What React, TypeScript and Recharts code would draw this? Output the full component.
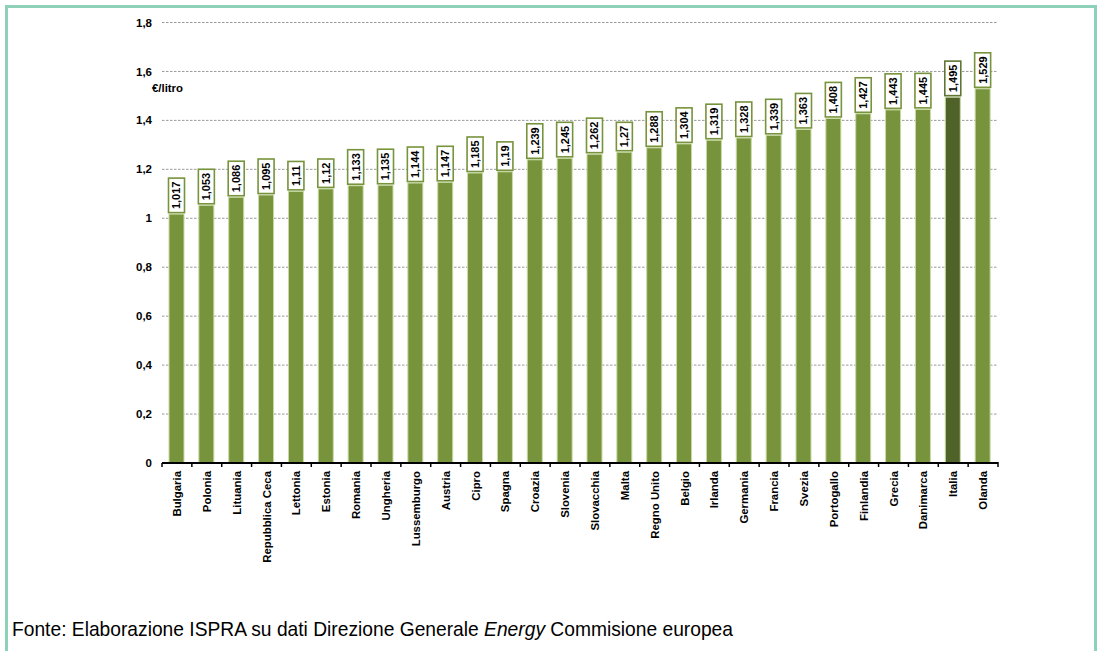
import React from "react";
import { BarChart, Bar, XAxis, YAxis, CartesianGrid, Cell, LabelList } from "recharts";

// Prezzo medio del gasolio per paese (€/litro)
const countries = [
  "Bulgaria", "Polonia", "Lituania", "Repubblica Ceca", "Lettonia", "Estonia", "Romania",
  "Ungheria", "Lussemburgo", "Austria", "Cipro", "Spagna", "Croazia", "Slovenia",
  "Slovacchia", "Malta", "Regno Unito", "Belgio", "Irlanda", "Germania", "Francia",
  "Svezia", "Portogallo", "Finlandia", "Grecia", "Danimarca", "Italia", "Olanda",
];
const prices = [
  1.017, 1.053, 1.086, 1.095, 1.11, 1.12, 1.133, 1.135, 1.144, 1.147, 1.185, 1.19, 1.239, 1.245,
  1.262, 1.27, 1.288, 1.304, 1.319, 1.328, 1.339, 1.363, 1.408, 1.427, 1.443, 1.445, 1.495, 1.529,
];
const yTicks = [0, 0.2, 0.4, 0.6, 0.8, 1, 1.2, 1.4, 1.6, 1.8];
const highlighted = "Italia";
const unitLabel = "€/litro";

const data = countries.map((name, i) => ({ name, price: prices[i] }));

const W = 1105;
const H = 651;
const MARGIN = { top: 22.5, right: 107, bottom: 78, left: 102 };
const Y_AXIS_W = 60;
const PLOT_W = W - MARGIN.left - MARGIN.right - Y_AXIS_W;
const BAND = PLOT_W / countries.length;

const GREEN = "#77933c";
const DARK = "#4f6228";
const FRAME = "#8fd0b8";
const FONT = '"Liberation Sans", Arial, sans-serif';

const fmt = (v: number) => String(Number(v.toFixed(3))).replace(".", ",");

// approximate Arial bold advance widths
const textWidth = (s: string, size: number) =>
  s.split("").reduce((acc, ch) => acc + (ch === "," ? 0.278 : 0.556), 0) * size;

const ValueLabel = (props: any) => {
  const { x, y, width, value } = props;
  const label = fmt(Number(value));
  const idx = prices.indexOf(Number(value));
  const isHi = countries[idx] === highlighted;
  const fs = 11;
  const boxH = textWidth(label, fs) + 7;
  const boxW = 16;
  const cx = Number(x) + Number(width) / 2;
  const bottom = Number(y) - 1.5;
  const cy = bottom - boxH / 2;
  return (
    <g>
      <rect
        x={cx - boxW / 2}
        y={bottom - boxH}
        width={boxW}
        height={boxH}
        fill="#ffffff"
        stroke={isHi ? "#5f7534" : GREEN}
        strokeWidth={1.6}
      />
      <text
        x={cx}
        y={cy}
        transform={`rotate(-90, ${cx}, ${cy})`}
        textAnchor="middle"
        dominantBaseline="central"
        fontFamily={FONT}
        fontWeight="bold"
        fontSize={fs}
        fill="#000"
      >
        {label}
      </text>
    </g>
  );
};

const CountryTick = (props: any) => {
  const { x, y, payload, index } = props;
  const i = typeof index === "number" ? index : countries.indexOf(payload.value);
  const left = x - BAND / 2;
  const ty = y + 8;
  return (
    <g>
      <line x1={left} x2={left} y1={y} y2={y + 4} stroke="#000" strokeWidth={1.5} />
      {i === countries.length - 1 && (
        <line x1={x + BAND / 2} x2={x + BAND / 2} y1={y - 1} y2={y + 4} stroke="#000" strokeWidth={1.5} />
      )}
      <text
        x={x}
        y={ty}
        transform={`rotate(-90, ${x}, ${ty})`}
        textAnchor="end"
        dominantBaseline="central"
        fontFamily={FONT}
        fontWeight="bold"
        fontSize={11.4}
        fill="#000"
      >
        {payload.value}
      </text>
    </g>
  );
};

export default function App() {
  return (
    <div
      style={{
        position: "fixed",
        left: 0,
        top: 0,
        width: W,
        height: H,
        background: "#fff",
        overflow: "hidden",
      }}
    >
      <div
        style={{
          position: "absolute",
          left: 5,
          top: 5,
          width: 1092,
          height: 700,
          boxSizing: "border-box",
          borderLeft: `3px solid ${FRAME}`,
          borderTop: `3px solid ${FRAME}`,
          borderRight: `3px solid ${FRAME}`,
        }}
      />
      <div style={{ position: "absolute", left: 0, top: 0 }}>
        <BarChart width={W} height={H} data={data} margin={MARGIN} barSize={15}>
          <CartesianGrid vertical={false} stroke="#9a9a9a" strokeDasharray="2.5 1.5" strokeWidth={1} />
          <YAxis
            width={Y_AXIS_W}
            domain={[0, 1.8]}
            ticks={yTicks}
            axisLine={false}
            tickLine={false}
            tickFormatter={(v: number) => String(Number(v.toFixed(1))).replace(".", ",")}
            tick={{ fontFamily: FONT, fontWeight: "bold", fontSize: 11.5, fill: "#000", dx: -2 }}
            interval={0}
          />
          <XAxis
            dataKey="name"
            height={110}
            interval={0}
            tickSize={0}
            tickMargin={0}
            tickLine={false}
            axisLine={{ stroke: "#000", strokeWidth: 2 }}
            tick={<CountryTick />}
          />
          <Bar dataKey="price" isAnimationActive={false} stroke="#c9dba3" strokeWidth={1}>
            {data.map((d) => (
              <Cell key={d.name} fill={d.name === highlighted ? DARK : GREEN} />
            ))}
            <LabelList dataKey="price" content={<ValueLabel />} />
          </Bar>
        </BarChart>
      </div>
      <div
        style={{
          position: "absolute",
          left: 152,
          top: 81,
          fontFamily: FONT,
          fontWeight: "bold",
          fontSize: 11.4,
          lineHeight: "14px",
          color: "#000",
        }}
      >
        {unitLabel}
      </div>
      <div
        style={{
          position: "absolute",
          left: 12,
          top: 617,
          fontFamily: FONT,
          fontSize: 21,
          lineHeight: "24px",
          color: "#000",
          whiteSpace: "nowrap",
          transform: "scaleX(0.915)",
          transformOrigin: "0 0",
        }}
      >
        Fonte: Elaborazione ISPRA su dati Direzione Generale <i>Energy</i> Commisione europea
      </div>
    </div>
  );
}
